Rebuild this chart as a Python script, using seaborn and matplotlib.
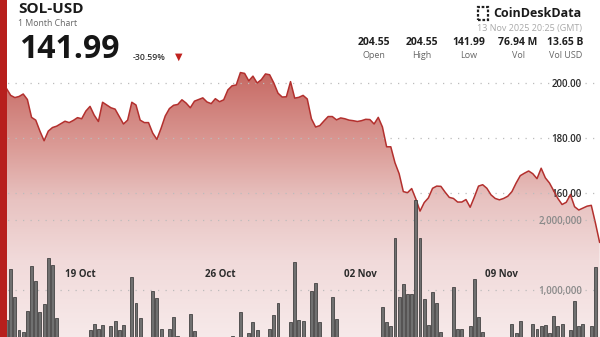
import numpy as np
import pandas as pd
import matplotlib
matplotlib.use("Agg")
import matplotlib.pyplot as plt
import matplotlib.dates as mdates
from matplotlib.patches import Rectangle
from matplotlib.ticker import FixedLocator, FuncFormatter
import seaborn as sns

# ---------------- data ----------------
price = [198.0, 195.5, 194.7, 195.1, 196.0, 194.0, 187.5, 186.5, 182.5, 179.0,
         182.5, 183.8, 184.3, 185.2, 186.1, 185.6, 186.4, 187.4, 187.0, 189.8,
         191.5, 188.3, 186.0, 193.0, 192.0, 191.0, 190.5, 187.8, 185.1, 186.5,
         193.0, 192.0, 186.5, 185.6, 185.6, 181.8, 179.5, 183.5, 188.0, 190.7,
         191.9, 192.2, 193.9, 192.7, 191.0, 193.4, 194.0, 194.6, 193.1, 192.5,
         194.3, 193.2, 193.9, 197.5, 199.0, 199.3, 203.8, 203.5, 200.8, 202.5,
         200.0, 201.2, 203.3, 203.0, 200.0, 196.3, 194.9, 195.0, 200.5, 194.5,
         194.8, 195.5, 194.2, 187.0, 184.0, 184.5, 186.2, 187.8, 187.8, 186.6,
         187.3, 187.0, 186.5, 186.3, 186.0, 186.3, 186.8, 186.7, 185.1, 187.5,
         184.0, 176.8, 176.8, 171.0, 167.0, 160.5, 160.1, 161.6, 157.8, 153.4,
         156.5, 158.2, 161.7, 162.5, 162.4, 160.3, 158.4, 158.0, 156.7, 156.7,
         157.6, 154.8, 158.5, 162.5, 163.0, 161.7, 159.3, 158.0, 157.5, 158.0,
         158.8, 160.5, 163.6, 166.3, 167.2, 168.0, 167.0, 165.2, 169.0, 165.5,
         163.6, 160.8, 158.0, 155.8, 156.6, 159.4, 155.0, 153.8, 154.5, 155.2,
         155.5, 149.0, 141.99]

volume_m = [0.57, 1.30, 0.90, 0.43, 0.40, 0.70, 1.35, 1.13, 0.68, 0.80,
            1.46, 1.36, 0.60, 0.25, 0.33, 0.20, 0.25, 0.20, 0.22, 0.28,
            0.43, 0.51, 0.44, 0.50, 0.30, 0.48, 0.56, 0.43, 0.50, 0.30,
            1.18, 0.81, 0.60, 0.30, 0.28, 0.99, 0.89, 0.45, 0.30, 0.45,
            0.62, 0.34, 0.25, 0.25, 0.66, 0.42, 0.30, 0.30, 0.28, 0.25,
            0.25, 0.20, 0.20, 0.22, 0.34, 0.30, 0.68, 0.30, 0.38, 0.54,
            0.43, 0.30, 0.30, 0.44, 0.64, 0.82, 0.30, 0.28, 0.54, 1.40,
            0.57, 0.56, 0.30, 0.99, 1.10, 0.54, 0.30, 0.30, 0.90, 0.58,
            0.30, 0.25, 0.22, 0.20, 0.22, 0.25, 0.28, 0.25, 0.28, 0.30,
            0.76, 0.55, 0.48, 1.74, 0.90, 1.09, 0.94, 0.94, 2.29, 1.74,
            0.87, 0.50, 0.97, 0.82, 0.40, 0.30, 0.30, 1.04, 0.45, 0.45,
            0.30, 0.49, 1.16, 0.62, 0.40, 0.30, 0.28, 0.28, 0.30, 0.30,
            0.30, 0.51, 0.39, 0.56, 0.33, 0.30, 0.51, 0.44, 0.49, 0.50,
            0.38, 0.63, 0.48, 0.51, 0.30, 0.43, 0.84, 0.48, 0.51, 0.30,
            0.49, 1.33, 0.30]

start_time = "2025-10-15 08:00"
bar_freq = "5h"
tick_dates = ["2025-10-19", "2025-10-26", "2025-11-02", "2025-11-09"]
price_ticks = [160, 180, 200]
volume_ticks = [1_000_000, 2_000_000]

title = "SOL-USD"
subtitle = "1 Month Chart"
last_price = "141.99"
change = "-30.59%"
brand = "CoinDeskData"
stamp = "13 Nov 2025 20:25 (GMT)"
stat_values = ["204.55", "204.55", "141.99", "76.94 M", "13.65 B"]
stat_names = ["Open", "High", "Low", "Vol", "Vol USD"]

# ---------------- setup ----------------
sns.set_theme(style="white")
plt.rcParams["font.family"] = ["Open Sans", "DejaVu Sans"]

W, H = 600, 337
fig = plt.figure(figsize=(W / 100, H / 100), dpi=100)
fig.patch.set_facecolor("white")
ax = fig.add_axes([0, 0, 1, 1])
ax.set_facecolor("white")

times = pd.date_range(start_time, periods=len(price), freq=bar_freq)
df = pd.DataFrame({"t": mdates.date2num(times), "price": price,
                   "volume": np.array(volume_m) * 1e6})

px_day = 20.05
x_left = df["t"].iloc[0] - 6.5 / px_day
x_right = x_left + W / px_day
ylo, yhi = 107.6, 230.2
vlo, vhi = 0.329e6, 5.143e6

# gradient fill under price line
poly = ax.fill_between(df["t"], df["price"], ylo, facecolor="none",
                       edgecolor="none")
rows = np.arange(H)
stop_y = [0, 70, 150, 200, 260, 337]
stop_c = np.array([(190, 88, 82), (198, 104, 98), (220, 158, 153),
                   (232, 195, 193), (241, 218, 218), (247, 234, 234)]) / 255
grad = np.stack([np.interp(rows, stop_y, stop_c[:, k]) for k in range(3)],
                axis=-1).reshape(H, 1, 3)
im = ax.imshow(grad, extent=[x_left, x_right, ylo, yhi], origin="upper",
               aspect="auto", zorder=1, interpolation="bilinear")
im.set_clip_path(poly.get_paths()[0], transform=ax.transData)

sns.lineplot(data=df, x="t", y="price", ax=ax, color="#b3302e",
             linewidth=1.1, zorder=3)

ax2 = ax.twinx()
sns.barplot(data=df, x="t", y="volume", ax=ax2, native_scale=True,
            width=0.7, color="#707070", edgecolor="#3a3a3a", linewidth=0.55,
            errorbar=None, saturation=1, zorder=4)

for a in (ax, ax2):
    for s in a.spines.values():
        s.set_visible(False)
    a.set_xlabel("")
    a.set_ylabel("")

ax.set_xlim(x_left, x_right)
ax.set_ylim(ylo, yhi)
ax2.set_ylim(vlo, vhi)

grid_kw = dict(linestyle=(0, (1, 5)), color="#bcbcbc", linewidth=0.9)
ax.set_axisbelow(False)
ax.yaxis.grid(True, **grid_kw)
ax.xaxis.grid(False)
ax2.yaxis.grid(True, **grid_kw)
ax2.xaxis.grid(False)

# price ticks (inside, right)
ax.yaxis.tick_right()
ax.yaxis.set_major_locator(FixedLocator(price_ticks))
ax.yaxis.set_major_formatter(FuncFormatter(lambda v, p: f"{v:.2f}"))
ax.tick_params(axis="y", length=0, pad=-13, labelsize=7,
               labelcolor="#2b2b2b", left=False, labelleft=False,
               right=False, labelright=True)
for t in ax.yaxis.get_major_ticks():
    t.label2.set_horizontalalignment("right")
    t.label2.set_fontweight("semibold")

# volume ticks
ax2.yaxis.set_major_locator(FixedLocator(volume_ticks))
ax2.yaxis.set_major_formatter(FuncFormatter(lambda v, p: f"{v:,.0f}"))
ax2.tick_params(axis="y", length=0, pad=-13, labelsize=7,
                labelcolor="#8a8a8a", right=False, labelright=True)
for t in ax2.yaxis.get_major_ticks():
    t.label2.set_horizontalalignment("right")
    t.label2.set_fontweight("semibold")

# date ticks inside the plot
ax.xaxis.set_major_locator(FixedLocator(mdates.date2num(pd.to_datetime(tick_dates))))
ax.xaxis.set_major_formatter(FuncFormatter(lambda v, p: mdates.num2date(v).strftime("%d %b")))
ax.tick_params(axis="x", length=0, pad=-49, labelsize=7, labelcolor="#2b2b2b",
               bottom=True, labelbottom=True)
for t in ax.xaxis.get_major_ticks():
    t.label1.set_fontweight("bold")
ax.xaxis.set_zorder(6)


def T(x, y, s, **kw):
    fig.text(x / W, 1 - y / H, s, **kw)


# header
T(18, 9, title, fontsize=11, fontweight="bold", color="#1a1a1a", va="center")
T(18, 23.2, subtitle, fontsize=6.3, color="#666666", va="center")
T(19, 58.5, last_price, fontsize=23, fontweight="bold", color="#161616",
  va="baseline")
T(133, 57.3, change, fontsize=6.3, fontweight="semibold", color="#333333",
  va="center")
T(179, 57.5, "\u25BC", fontsize=7, color="#c0221f", va="center", ha="center")

fig.add_artist(Rectangle((478 / W, 1 - 19.5 / H), 10 / W, 12 / H,
                         transform=fig.transFigure, fill=False,
                         edgecolor="#1f1f1f", linewidth=1.6,
                         linestyle=(0, (1.2, 0.8)), zorder=10))
T(582, 13.3, brand, fontsize=9, fontweight="bold", color="#1a1a1a",
  va="center", ha="right")
T(582, 28.3, stamp, fontsize=6.5, color="#a8a8a8", va="center", ha="right")

stat_x = [373.5, 421.5, 468.5, 518, 565.5]
for xc, v, n in zip(stat_x, stat_values, stat_names):
    T(xc, 42.7, v, fontsize=7.5, fontweight="bold", color="#1f1f1f",
      va="center", ha="center")
    T(xc, 56, n, fontsize=6.5, color="#666666", va="center", ha="center")

# red left stripe
fig.add_artist(Rectangle((0, 0), 7 / W, 1, transform=fig.transFigure,
                         facecolor="#b71f1d", edgecolor="none", zorder=11))

fig.savefig("out.png", dpi=100)
